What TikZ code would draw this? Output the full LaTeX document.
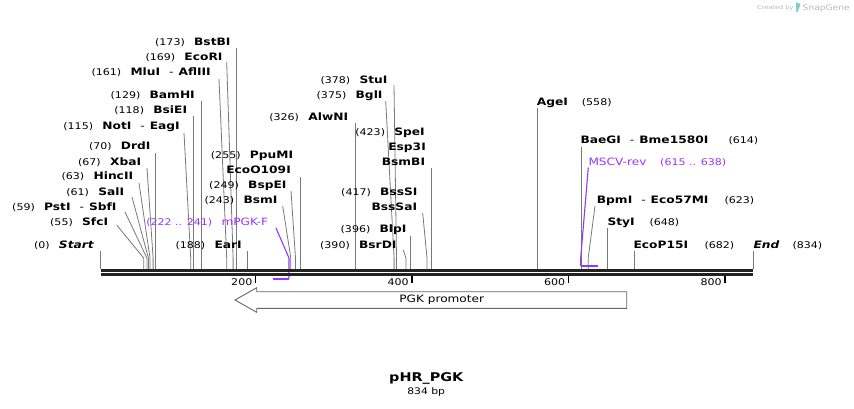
\documentclass[tikz,border=0pt]{standalone}
\usepackage{fontspec}
\setmainfont{DejaVu Sans}[FakeStretch=1.2]
\definecolor{prim}{RGB}{153,51,255}
\definecolor{site}{RGB}{120,120,120}
\definecolor{dna}{RGB}{34,34,34}
\definecolor{feat}{RGB}{102,102,102}
\definecolor{credit}{RGB}{185,185,185}
\newcommand\nf[1]{{\fontsize{9.2}{11}\selectfont #1}}
\newcommand\bn[1]{{\fontsize{10.2}{12}\selectfont\bfseries #1}}
\newcommand\psep{\hspace{9pt}{\fontsize{10.2}{12}\selectfont -}\hspace{5pt}}
\newcommand\gsep{\hspace{9.3pt}}
\begin{document}
\begin{tikzpicture}[x=1pt,y=-1pt,
  lab/.style={inner sep=0pt, anchor=base east},
  rlab/.style={inner sep=0pt, anchor=base west},
  cut/.style={draw=site, line width=0.8pt},
  primline/.style={draw=prim, line width=1.1pt},
  primbar/.style={draw=prim, line width=2pt},
  dnaline/.style={draw=dna, line width=2.7pt},
  tickmark/.style={draw=black, line width=1.5pt},
  ticklab/.style={inner sep=0pt, anchor=base east, font=\fontsize{9.2}{11}\selectfont},
  featbox/.style={draw=feat, line width=0.9pt, fill=white}]
\useasboundingbox (0,0) rectangle (854,408);

% ---------- credit ----------
\node[inner sep=0pt, anchor=base west, text=credit, font=\fontsize{5.5}{6}\selectfont] (cr1) at (757,9.5) {Created by};
\fill[credit!70!cyan] (796,2.5) .. controls (801,2.5) and (801,5) .. (799,8) -- (797.5,12) -- (796,12) -- cycle;
\node[inner sep=0pt, anchor=base west, text=credit, font=\fontsize{7.6}{8}\selectfont] (cr2) at (802.5,10.5) {SnapGene};

% ---------- cut site lines ----------
% vertical ones: (site) -- (top)
\foreach \nm/\x/\t in {s0/100.7/250.7, s70/155.5/153, s118/193.0/116, s129/201.6/101,
   s173/236.1/48, s188/247.8/251, s255/300.2/177, s326/355.8/123, s423/431.7/168,
   s396/410.6/236, s558/537.3/108, s614/581.2/147, s648/607.8/228, s682/634.4/251,
   s834/753.3/251}{
  \coordinate (\nm) at (\x,269);
  \coordinate (\nm t) at (\x,\t);
  \draw[cut] (\nm) -- (\nm t);
}
% bent ones: (site) -- (bend) -- (top)
\foreach \nm/\x/\tx/\ty in {s55/143.7/116.7/225, s59/146.9/125/212, s61/148.4/132/197,
   s63/150.0/139/183, s67/153.1/147/168, s115/190.7/184/133, s161/226.7/219/79,
   s169/233.1/226.7/62, s243/290.8/282.7/206, s249/295.5/291/191, s375/394.1/385.7/101,
   s378/396.5/394/85, s390/405.9/403.3/250, s417/427.0/422.7/213, s623/588.2/595/206}{
  \coordinate (\nm) at (\x,269);
  \coordinate (\nm b) at (\x,258);
  \coordinate (\nm t) at (\tx,\ty);
  \draw[cut] (\nm) -- (\nm b) -- (\nm t);
}

% ---------- primers ----------
\coordinate (p1a) at (273.3,278.7);
\coordinate (p1b) at (289,278.7);
\coordinate (p1c) at (289,258);
\coordinate (p1d) at (276,228);
\draw[primline] (p1d) -- (p1c) -- (p1b);
\draw[primbar] (p1a) -- (p1b);
\coordinate (p2a) at (580.7,266);
\coordinate (p2b) at (597.7,266);
\coordinate (p2c) at (580.7,258);
\coordinate (p2d) at (588.3,167.5);
\draw[primline] (p2d) -- (p2c) -- (p2a);
\draw[primbar] (p2a) -- (p2b);

% ---------- DNA ----------
\coordinate (dL1) at (100.7,270.3); \coordinate (dR1) at (753.3,270.3);
\coordinate (dL2) at (100.7,274.6); \coordinate (dR2) at (753.3,274.6);
\draw[dnaline] (dL1) -- (dR1);
\draw[dnaline] (dL2) -- (dR2);

% ticks
\foreach \nm/\x in {200/255.7, 400/412.1, 600/568.6, 800/725}{
  \coordinate (k\nm a) at (\x,276);
  \coordinate (k\nm b) at (\x,282.5);
  \draw[tickmark] (k\nm a) -- (k\nm b);
  \node[ticklab] (kl\nm) at (\x-3.2,285.3) {\nm};
}

% ---------- feature ----------
\draw[featbox] (235,300) -- (256.7,287.7) -- (256.7,291.7) -- (626.7,291.7) -- (626.7,308.3)
   -- (256.7,308.3) -- (256.7,312.3) -- cycle;
\node[inner sep=0pt, font=\fontsize{10.1}{12}\selectfont] (pgk) at (441.7,300) {PGK promoter};

% ---------- left labels ----------
\node[lab] (lStart) at (94,248.1) {\nf{(0)}\gsep\bn{\itshape Start}};
\node[lab] (l55) at (108.3,225.3) {\nf{(55)}\gsep\bn{SfcI}};
\node[lab] (l59) at (116.7,210.3) {\nf{(59)}\gsep\bn{PstI}\psep\bn{SbfI}};
\node[lab] (l61) at (124.3,195.3) {\nf{(61)}\gsep\bn{SalI}};
\node[lab] (l63) at (133.3,179.6) {\nf{(63)}\gsep\bn{HincII}};
\node[lab] (l67) at (141.3,165.3) {\nf{(67)}\gsep\bn{XbaI}};
\node[lab] (l70) at (150.7,149.6) {\nf{(70)}\gsep\bn{DrdI}};
\node[lab] (l115) at (180,129.3) {\nf{(115)}\gsep\bn{NotI}\psep\bn{EagI}};
\node[lab] (l118) at (187.3,113.6) {\nf{(118)}\gsep\bn{BsiEI}};
\node[lab] (l129) at (195,98.6) {\nf{(129)}\gsep\bn{BamHI}};
\node[lab] (l161) at (211,75.9) {\nf{(161)}\gsep\bn{MluI}\psep\bn{AflIII}};
\node[lab] (l169) at (222.7,60.3) {\nf{(169)}\gsep\bn{EcoRI}};
\node[lab] (l173) at (230.7,45.9) {\nf{(173)}\gsep\bn{BstBI}};
\node[lab] (l188) at (242,248.1) {\nf{(188)}\gsep\bn{EarI}};
\node[lab] (l243) at (277.7,203.6) {\nf{(243)}\gsep\bn{BsmI}};
\node[lab] (l249) at (286.7,188.6) {\nf{(249)}\gsep\bn{BspEI}};
\node[lab] (l255) at (293.3,158.6) {\nf{(255)}\gsep\bn{PpuMI}};
\node[lab] (l255b) at (291,173.6) {\bn{EcoO109I}};
\node[lab] (l326) at (348.3,120.3) {\nf{(326)}\gsep\bn{AlwNI}};
\node[lab] (l378) at (387.7,83.6) {\nf{(378)}\gsep\bn{StuI}};
\node[lab] (l375) at (382.7,98.6) {\nf{(375)}\gsep\bn{BglI}};
\node[lab] (l423) at (425,135.3) {\nf{(423)}\gsep\bn{SpeI}};
\node[lab] (l423b) at (426,150.3) {\bn{Esp3I}};
\node[lab] (l423c) at (425.3,165.3) {\bn{BsmBI}};
\node[lab] (l417) at (417.7,195.3) {\nf{(417)}\gsep\bn{BssSI}};
\node[lab] (l417b) at (417.3,210.3) {\bn{BssSaI}};
\node[lab] (l396) at (406.7,232.6) {\nf{(396)}\gsep\bn{BlpI}};
\node[lab] (l390) at (396.7,248.1) {\nf{(390)}\gsep\bn{BsrDI}};
\node[lab, text=prim] (lp1) at (268.3,225.9) {\nf{(222 .. 241)}\gsep{\fontsize{10.1}{12}\selectfont mPGK-F}};

% ---------- right labels ----------
\node[rlab] (r558) at (536.7,105.9) {\bn{AgeI}};
\node[rlab] (r558n) at (581.7,105.9) {\nf{(558)}};
\node[rlab] (r614) at (580.3,143.6) {\bn{BaeGI}\psep\bn{Bme1580I}};
\node[rlab] (r614n) at (728.3,143.6) {\nf{(614)}};
\node[rlab, text=prim] (rp2) at (588.3,165.3) {\fontsize{10.1}{12}\selectfont MSCV-rev};
\node[rlab, text=prim] (rp2n) at (660,165.3) {\nf{(615 .. 638)}};
\node[rlab] (r623) at (596.7,203.6) {\bn{BpmI}\psep\bn{Eco57MI}};
\node[rlab] (r623n) at (724.3,203.6) {\nf{(623)}};
\node[rlab] (r648) at (607.3,225.9) {\bn{StyI}};
\node[rlab] (r648n) at (649.3,225.9) {\nf{(648)}};
\node[rlab] (r682) at (633.3,248.1) {\bn{EcoP15I}};
\node[rlab] (r682n) at (704.3,248.1) {\nf{(682)}};
\node[rlab] (rEnd) at (753.3,248.1) {\bn{\itshape End}};
\node[rlab] (rEndn) at (792.3,248.1) {\nf{(834)}};

% ---------- title ----------
\node[inner sep=0pt, font=\fontsize{12}{14}\selectfont\bfseries] (title) at (426.3,378) {pHR\_PGK};
\node[inner sep=0pt, font=\fontsize{9}{11}\selectfont] (size) at (426.2,392.5) {834 bp};
\end{tikzpicture}
\end{document}
